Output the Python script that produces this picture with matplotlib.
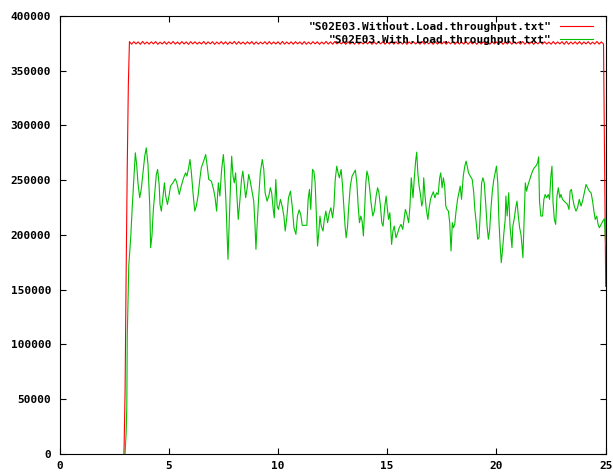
import matplotlib
matplotlib.use("Agg")
import matplotlib.pyplot as plt
import numpy as np

# throughput samples
red_label = '"S02E03.Without.Load.throughput.txt"'
green_label = '"S02E03.With.Load.throughput.txt"'

red_rise_t = [2.95, 3.0, 3.05, 3.1, 3.15]
red_rise_v = [0, 56500, 166700, 261500, 337000]
red_start = 3.2   # plateau sampled every 0.1
red_plateau_k = [
    376.4, 374.0, 376.3, 374.3, 376.1, 373.9, 376.5, 374.2, 376.0, 374.1,
    376.2, 374.3, 376.4, 373.9, 375.9, 374.2, 376.3, 374.0, 376.1, 374.3,
    376.5, 374.1, 376.0, 374.0, 376.4, 374.2, 376.1, 373.9, 376.3, 374.3,
    376.2, 374.1, 375.9, 374.2, 376.5, 374.0, 376.1, 374.3, 376.3, 373.9,
    376.0, 374.2, 376.4, 374.1, 376.2, 373.9, 376.1, 374.3, 376.5, 374.0,
    376.3, 374.2, 376.0, 374.0, 376.2, 374.3, 376.4, 373.9, 376.1, 374.1,
    375.9, 374.3, 376.3, 374.0, 376.4, 374.1, 376.1, 374.2, 376.2, 373.9,
    376.5, 374.1, 376.0, 374.2, 376.2, 374.0, 376.3, 374.3, 376.1, 373.9,
    376.4, 374.0, 375.9, 374.1, 376.3, 374.3, 376.2, 373.9, 376.0, 374.2,
    376.5, 374.1, 376.1, 374.0, 376.4, 374.2, 376.0, 374.3, 376.2, 373.9,
    376.3, 374.2, 376.1, 374.0, 376.5, 374.1, 375.9, 374.2, 376.2, 374.3,
    376.4, 373.9, 376.0, 374.1, 376.2, 374.3, 376.3, 374.0, 376.1, 374.2,
    376.5, 374.0, 376.2, 374.2, 375.9, 374.1, 376.4, 373.9, 376.1, 374.3,
    376.3, 374.2, 376.0, 374.0, 376.5, 374.1, 376.1, 374.3, 376.2, 373.9,
    376.4, 374.1, 375.9, 374.2, 376.3, 374.0, 376.1, 374.3, 376.5, 373.9,
    376.2, 374.2, 376.0, 374.1, 376.4, 374.0, 376.3, 374.3, 376.1, 373.9,
    376.5, 374.1, 376.2, 374.2, 375.9, 374.0, 376.4, 374.3, 376.0, 374.1,
    376.3, 373.9, 376.1, 374.2, 376.5, 374.0, 376.2, 374.3, 375.9, 374.1,
    376.4, 374.0, 376.1, 374.2, 376.3, 373.9, 376.0, 374.3, 376.5, 374.1,
    376.2, 374.2, 375.9, 374.0, 376.4, 374.1, 376.1, 374.3, 376.3, 373.9,
    376.5, 374.0, 376.0, 374.2, 376.2, 374.1, 376.4, 373.9, 376.1, 374.3,
    376.3, 374.0, 375.9, 374.2, 376.5, 374.1, 376.1, 374.2,
]
red_end_t = [24.95, 25.0]
red_end_v = [266000, 153000]

green_t = [
    3.00, 3.05, 3.08, 3.10, 3.17, 3.26, 3.33, 3.40, 3.47, 3.53, 3.59, 3.67,
    3.74, 3.82, 3.90, 3.97, 4.05, 4.13, 4.17, 4.23, 4.29, 4.36, 4.43, 4.49,
    4.56, 4.60, 4.66, 4.73, 4.80, 4.86, 4.94, 5.01, 5.08, 5.19, 5.30, 5.37,
    5.48, 5.57, 5.68, 5.77, 5.83, 5.91, 5.97, 6.03, 6.11, 6.19, 6.26, 6.34,
    6.42, 6.49, 6.57, 6.62, 6.69, 6.76, 6.83, 6.95, 7.05, 7.12, 7.19, 7.27,
    7.34, 7.42, 7.50, 7.54, 7.62, 7.68, 7.71, 7.77, 7.84, 7.88, 7.94, 8.00,
    8.06, 8.12, 8.18, 8.26, 8.33, 8.39, 8.45, 8.52, 8.58, 8.66, 8.73, 8.81,
    8.89, 8.95, 8.99, 9.05, 9.12, 9.19, 9.28, 9.35, 9.41, 9.50, 9.58, 9.65,
    9.71, 9.79, 9.83, 9.90, 9.96, 10.02, 10.11, 10.19, 10.27, 10.33, 10.41,
    10.48, 10.57, 10.65, 10.73, 10.82, 10.89, 10.97, 11.04, 11.11, 11.23,
    11.32, 11.38, 11.44, 11.50, 11.58, 11.64, 11.70, 11.75, 11.81, 11.86,
    11.92, 11.98, 12.06, 12.12, 12.19, 12.27, 12.35, 12.42, 12.50, 12.56,
    12.62, 12.69, 12.75, 12.81, 12.89, 12.95, 13.01, 13.07, 13.12, 13.18,
    13.24, 13.31, 13.39, 13.47, 13.54, 13.61, 13.67, 13.73, 13.79, 13.85,
    13.91, 13.96, 14.02, 14.07, 14.13, 14.20, 14.26, 14.34, 14.41, 14.49,
    14.56, 14.62, 14.69, 14.75, 14.81, 14.89, 14.95, 15.01, 15.06, 15.12,
    15.20, 15.26, 15.32, 15.40, 15.48, 15.55, 15.63, 15.71, 15.77, 15.83,
    15.90, 15.98, 16.04, 16.10, 16.18, 16.24, 16.30, 16.35, 16.40, 16.46,
    16.52, 16.58, 16.63, 16.67, 16.73, 16.79, 16.86, 16.92, 16.98, 17.03,
    17.11, 17.18, 17.26, 17.33, 17.40, 17.45, 17.51, 17.57, 17.63, 17.68,
    17.74, 17.80, 17.86, 17.92, 17.98, 18.03, 18.09, 18.15, 18.22, 18.28,
    18.34, 18.40, 18.48, 18.55, 18.61, 18.66, 18.72, 18.80, 18.89, 18.96,
    19.01, 19.08, 19.14, 19.20, 19.26, 19.32, 19.38, 19.44, 19.51, 19.57,
    19.63, 19.69, 19.75, 19.81, 19.88, 19.94, 20.00, 20.06, 20.11, 20.17,
    20.22, 20.28, 20.34, 20.40, 20.43, 20.49, 20.56, 20.62, 20.66, 20.71,
    20.75, 20.82, 20.88, 20.94, 21.00, 21.06, 21.12, 21.17, 21.21, 21.26,
    21.32, 21.38, 21.43, 21.50, 21.57, 21.65, 21.73, 21.80, 21.88, 21.93,
    21.97, 22.03, 22.11, 22.17, 22.23, 22.30, 22.37, 22.43, 22.49, 22.54,
    22.59, 22.65, 22.71, 22.77, 22.83, 22.90, 22.95, 23.02, 23.10, 23.17,
    23.25, 23.32, 23.37, 23.43, 23.50, 23.56, 23.64, 23.71, 23.79, 23.87,
    23.94, 24.02, 24.10, 24.17, 24.25, 24.33, 24.40, 24.46, 24.52, 24.59,
    24.65, 24.71, 24.79, 24.87, 24.94, 25.00,
]
green_v = [
    0, 20000, 43000, 107000, 172000, 198000, 226000, 250600, 274900, 264200, 247500, 233900,
    241500, 256600, 271800, 279400, 264200, 226300, 188300, 198900, 221700, 238400, 255100, 259700,
    246000, 227800, 221700, 233900, 247500, 235400, 227800, 235400, 244500, 247500, 251200, 247500,
    236900, 244500, 252100, 256600, 253600, 261200, 268800, 258200, 238400, 221700, 226300, 235400,
    250600, 261200, 265700, 268800, 273300, 262700, 250600, 249000, 241500, 233900, 221700, 247500,
    235400, 259700, 273300, 262700, 229300, 195900, 177700, 214100, 253600, 271800, 253600, 247500,
    256600, 235400, 214100, 232400, 250600, 258200, 247500, 233900, 241500, 255100, 249000, 239900,
    230800, 208000, 186800, 211100, 235400, 256600, 268800, 259700, 238400, 230800, 235400, 243000,
    238400, 221700, 215600, 250600, 226300, 223200, 232400, 226300, 217200, 203500, 217200,
    233900, 239900, 226300, 206500, 200500, 217200, 222700, 218600, 208700, 208700,
    208700, 232400, 241500, 223200, 259700, 258200, 247500, 221700, 189800, 200500,
    217200, 208000, 203500, 214100, 221700, 211100, 220200, 224700, 215600, 226300,
    250600, 262700, 256600, 252100, 259700, 245900, 226300, 208000, 197400, 207000,
    226300, 244500, 253600, 256600, 259100, 247500, 226300, 211100, 217200, 212600,
    199000, 220200, 247500, 258200, 253600, 241500, 229300, 217200, 221700, 235400,
    243000, 238400, 226300, 211100, 208000, 226300, 235400, 223200, 214100, 220200,
    191300, 203500, 208000, 197400, 201900, 206500, 209600, 205000, 214100, 223200,
    218600, 211100, 226300, 252100, 233900, 252100, 267300, 275500, 256600, 244500,
    236900, 226300, 230800, 252100, 235400, 223200, 214100, 224700, 232400, 235400,
    239300, 233900, 238400, 236900, 252100, 256600, 243000, 252100, 244500, 226300,
    223200, 221700, 211100, 185300, 211100, 206500, 209600, 221700, 232400, 238400,
    244500, 232400, 253600, 262700, 267300, 262700, 256600, 253600, 250600, 238400,
    223200, 209600, 196000, 197400, 220200, 247500, 252100, 247500, 227800, 208000,
    196000, 205000, 224700, 240000, 250600, 256600, 262700, 247500, 214100, 189800,
    174600, 186800, 201900, 214100, 235400, 217200, 238400, 208000, 199000, 188300,
    208000, 215600, 224700, 230800, 217200, 206500, 200500, 189800, 179200, 211100,
    247500, 239900, 244500, 249000, 253600, 258200, 261200, 262700, 265700, 271200,
    230800, 217200, 217200, 232400, 236900, 233900, 236900, 232400, 253600, 262700,
    229300, 214100, 209600, 235400, 243000, 233900, 236900, 232400, 230800, 229300,
    227800, 223200, 239900, 241500, 232400, 226300, 221700, 224700, 232400, 226300,
    230800, 238400, 246000, 243000, 239900, 238400, 230800, 221700, 214100, 217200,
    209600, 206500, 209600, 212600, 214700, 190000,
]

x_ticks = [0, 5, 10, 15, 20, 25]
y_ticks = [0, 50000, 100000, 150000, 200000, 250000, 300000, 350000, 400000]

red_t = red_rise_t + [red_start + 0.1 * i for i in range(len(red_plateau_k))] + red_end_t
red_v = red_rise_v + [k * 1000 for k in red_plateau_k] + red_end_v

font = {'family': 'DejaVu Sans Mono', 'weight': 'bold', 'size': 8}

fig = plt.figure(figsize=(6.13, 4.72), dpi=100)
ax = fig.add_axes([0.0971, 0.0381, 0.891, 0.9286])

ax.plot(red_t, red_v, color='#ff0000', linewidth=0.8, label=red_label)
ax.plot(green_t, green_v, color='#00c000', linewidth=0.8, label=green_label)

ax.set_xlim(0, 25)
ax.set_ylim(0, 400000)
ax.set_xticks(x_ticks)
ax.set_yticks(y_ticks)
ax.set_xticklabels([str(t) for t in x_ticks], fontdict=font)
ax.set_yticklabels([str(t) for t in y_ticks], fontdict=font)
ax.tick_params(direction='in', length=4, width=0.8, top=True, right=True)
ax.tick_params(axis='y', pad=6)
ax.tick_params(axis='x', pad=5)
for s in ax.spines.values():
    s.set_linewidth(0.8)

ax.legend(loc='upper right', bbox_to_anchor=(0.9767, 0.9868), frameon=False,
          markerfirst=False, handlelength=3.0, handletextpad=0.7,
          labelspacing=0.29, borderpad=0, borderaxespad=0,
          prop=font)

fig.savefig('out.png', dpi=100)
